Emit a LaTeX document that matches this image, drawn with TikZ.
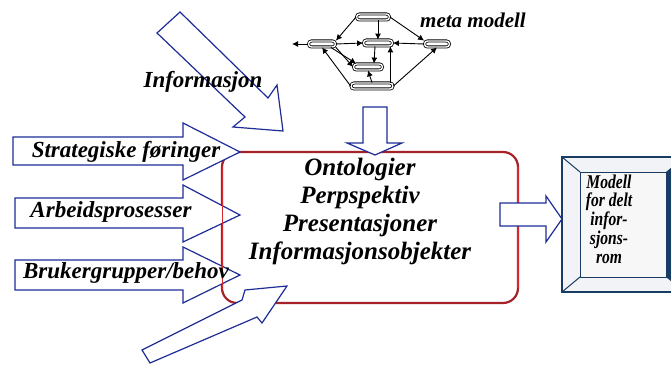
\documentclass[tikz,border=0pt]{standalone}
\usepackage{fontspec}
\setmainfont{Liberation Serif}
\newfontfamily\smalskrift[FakeStretch=0.8]{Liberation Serif}
\usetikzlibrary{arrows.meta}

\definecolor{pilblaa}{RGB}{30,45,150}
\definecolor{boksrod}{RGB}{165,35,40}
\definecolor{kantrod}{RGB}{215,40,45}
\definecolor{rammeblaa}{RGB}{25,60,100}

\begin{document}
\begin{tikzpicture}[x=1pt,y=-1pt,
	pil/.style={draw=pilblaa,line width=1.2pt,fill=white,line join=miter},
	tekst/.style={font=\bfseries\itshape\fontsize{23}{26}\selectfont,inner sep=0pt},
	mnode/.style={draw,double,double distance=1.4pt,line width=0.8pt,rounded corners=3pt,minimum height=6pt,inner sep=0pt},
	mpil/.style={-{Latex[length=6pt,width=6pt]},line width=0.9pt}]
	\clip (0,0) rectangle (671,366);
	\fill[white] (0,0) rectangle (671,366);
	
	% hovedboks
	\draw[boksrod,line width=2.2pt,rounded corners=15pt,fill=white] (222,152) rectangle (518,303);
	\draw[kantrod,line width=1.5pt] (518,167) -- (518,288);
	\node[tekst,align=center,font=\bfseries\itshape\fontsize{25}{28}\selectfont] (innhold) at (360,211)
		{Ontologier\\Perpspektiv\\Presentasjoner\\Informasjonsobjekter};
	
	% piler inn fra venstre
	\draw[pil] (13,137) -- (183,137) -- (183,123) -- (240,152) -- (183,180) -- (183,165) -- (13,165) -- cycle;
	\draw[pil] (15,198) -- (183,198) -- (183,185) -- (240,215) -- (183,242) -- (183,228) -- (15,228) -- cycle;
	\draw[pil] (15,260) -- (183,260) -- (183,247) -- (240,275) -- (183,303) -- (183,290) -- (15,290) -- cycle;
	\draw[kantrod,line width=1pt] (222,167) -- (222,290);
	\node[tekst] (strategi) at (126,152) {Strategiske føringer};
	\node[tekst] (arbeid) at (111,212) {Arbeidsprosesser};
	\node[tekst] (bruker) at (126,273) {Brukergrupper/behov};
	
	% pil nedenfra
	\draw[pil] (142,350) -- (242,300) -- (245,290) -- (287,286) -- (262,323) -- (257,317) -- (150,363) -- cycle;
	
	% informasjon
	\draw[pil] (180,12) -- (268,98) -- (277,85) -- (283,131) -- (233,127) -- (245,117) -- (157,33) -- cycle;
	\node[tekst] (info) at (203,82) {Informasjon};
	
	% pil fra metamodell
	\draw[pil] (363,107) -- (387,107) -- (387,143) -- (402,143) -- (375,155) -- (347,143) -- (363,143) -- cycle;
	
	% pil ut
	\draw[pil] (500,203) -- (546,203) -- (546,196) -- (562,219) -- (546,242) -- (546,226) -- (500,226) -- cycle;
	
	% modell-ramme
	\fill[rammeblaa!6] (562,157) rectangle (684,292);
	\fill[rammeblaa] (666,172) -- (684,157) -- (684,292) -- (666,277) -- cycle;
	\fill[gray!6] (580,172) rectangle (666,277);
	\draw[rammeblaa,line width=1.5pt] (562,157) rectangle (684,292);
	\draw[rammeblaa,line width=1pt] (580,172) rectangle (666,277);
	\draw[rammeblaa,line width=1pt] (562,157) -- (580,172);
	\draw[rammeblaa,line width=1pt] (562,292) -- (580,277);
	\node[tekst,align=center,font=\smalskrift\bfseries\itshape\fontsize{19.5}{18.7}\selectfont] (modell) at (609,219)
		{Modell\\for delt\\infor-\\sjons-\\rom};
	
	% meta modell
	\node[mnode,minimum width=33pt] (mtopp) at (373,17) {};
	\node[mnode,minimum width=27pt] (mvenstre) at (322,44) {};
	\node[mnode,minimum width=29pt] (mmidt) at (378,43) {};
	\node[mnode,minimum width=25pt] (mhoyre) at (437,44) {};
	\node[mnode,minimum width=29pt] (mlav) at (368,67) {};
	\node[mnode,minimum width=42pt] (mbunn) at (372,86) {};
	\coordinate (mut) at (292,44);
	\node[tekst,anchor=west,font=\bfseries\itshape\fontsize{21}{24}\selectfont] (meta) at (420,20) {meta modell};
	
	\draw[mpil] (mtopp.west) -- (mvenstre.north east);
	\draw[mpil] (mtopp.south -| mmidt.north) -- (mmidt.north);
	\draw[mpil] (mtopp.east) -- (mhoyre.north west);
	\draw[mpil] (mvenstre.east) -- (mmidt.west);
	\draw[mpil] (mhoyre.west) -- (mmidt.east);
	\draw[mpil] (mvenstre.west) -- (mut);
	\draw[mpil] (mvenstre.south east) -- (mlav.west);
	\draw[mpil] ([xshift=-5pt]mvenstre.south east) -- ([xshift=3pt]mlav.north west);
	\draw[mpil] ([xshift=-3pt]mmidt.south) -- ([xshift=6pt]mlav.north);
	\draw[mpil] (mbunn.north) -- (mlav.south);
	\draw[mpil] ([xshift=-3pt]mbunn.north east) -- ([xshift=-3pt]mbunn.north east |- mmidt.south);
	\draw[mpil] (mbunn.west) -- (mvenstre.south);
	\draw[mpil] (mbunn.east) -- (mhoyre.south);
	
\end{tikzpicture}
\end{document}
